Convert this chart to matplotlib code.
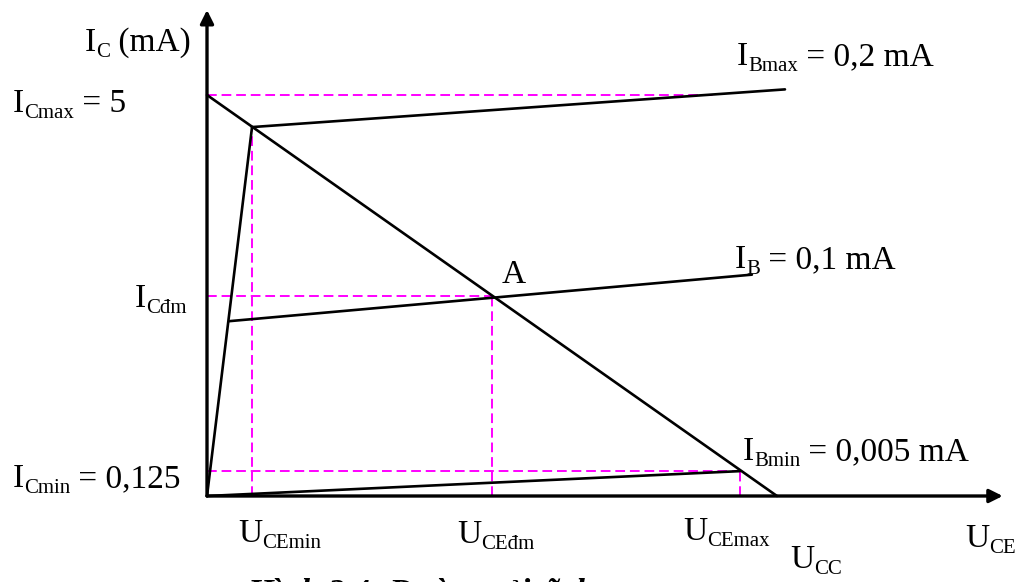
import matplotlib
matplotlib.use("Agg")
import matplotlib.pyplot as plt

plt.rcParams["font.family"] = ["Liberation Serif", "DejaVu Serif"]

# %% data (schematic: U_CE in arbitrary units with U_CC = 10, I_C in mA)
U_CC = 10.0
I_Cmax = 5.0

load_U = [0, U_CC]
load_I = [I_Cmax, 0]

# saturation line from origin to the knee of I_Bmax
sat_U = [0, 0.79]
sat_I = [0, 4.6]

# output characteristics
ibmax_U = [0.79, 10.14]
ibmax_I = [4.6, 5.07]
ib_U = [0.39, 9.56]
ib_I = [2.18, 2.76]
ibmin_U = [0, 9.35]
ibmin_I = [0, 0.31]

# operating points
U_CEmin, U_CEdm, U_CEmax = 0.79, 5.0, 9.35
I_Cdm, I_Cmin = 2.5, 0.31
I_Cmax_guide_end = 8.9

# %% figure
W, H = 1020, 582
fig = plt.figure(figsize=(W / 100, H / 100), dpi=100)
ax = fig.add_axes([0, 0, 1, 1])
ax.set_xlim(-207 / 57, (W - 207) / 57)
ax.set_ylim(-(H - 496) / 80.2, 496 / 80.2)
ax.axis("off")

# axes with arrows
arrow = dict(arrowstyle="-|>", lw=2.4, color="black", mutation_scale=20,
             shrinkA=0, shrinkB=0)
ax.annotate("", xy=(13.96, 0), xytext=(0, 0), arrowprops=arrow)
ax.annotate("", xy=(0, 6.06), xytext=(0, 0), arrowprops=arrow)

# magenta guides
mg = dict(color="#ff00ff", lw=1.4, linestyle=(0, (5, 2.5)), zorder=1)
ax.plot([0, I_Cmax_guide_end], [I_Cmax, I_Cmax], **mg)
ax.plot([U_CEmin, U_CEmin], [0, sat_I[1]], **mg)
ax.plot([0, U_CEdm], [I_Cdm, I_Cdm], **mg)
ax.plot([U_CEdm, U_CEdm], [0, I_Cdm], **mg)
ax.plot([0, U_CEmax], [I_Cmin, I_Cmin], **mg)
ax.plot([U_CEmax, U_CEmax], [0, I_Cmin], **mg)

# black curves
bk = dict(color="black", lw=1.9, zorder=2, solid_capstyle="round")
ax.plot(load_U, load_I, **bk)
ax.plot(sat_U, sat_I, **bk)
ax.plot(ibmax_U, ibmax_I, **bk)
ax.plot(ib_U, ib_I, **bk)
ax.plot(ibmin_U, ibmin_I, **bk)

# %% labels with small subscripts
renderer = fig.canvas.get_renderer()


def label(x, y, parts, size=24, sub_size=15, drop=6):
    # x, y = left edge / baseline in pixels from top left
    for text, sub in parts:
        fs = sub_size if sub else size
        dy = drop if sub else 0
        t = fig.text(x / W, 1 - (y + dy) / H, text, fontsize=fs,
                     ha="left", va="baseline")
        x += t.get_window_extent(renderer).width


label(85, 51, [("I", 0), ("C", 1), (" (mA)", 0)])
label(13, 112, [("I", 0), ("Cmax", 1), (" = 5", 0)])
label(737, 65, [("I", 0), ("Bmax", 1), (" = 0,2 mA", 0)])
label(735, 268, [("I", 0), ("B", 1), (" = 0,1 mA", 0)])
label(135, 307, [("I", 0), ("Cđm", 1)])
label(502, 283, [("A", 0)])
label(743, 460, [("I", 0), ("Bmin", 1), (" = 0,005 mA", 0)])
label(13, 487, [("I", 0), ("Cmin", 1), (" = 0,125", 0)])
label(238, 542, [("U", 0), ("CEmin", 1)])
label(457, 543, [("U", 0), ("CEđm", 1)])
label(683, 540, [("U", 0), ("CEmax", 1)])
label(790, 568, [("U", 0), ("CC", 1)])
label(965, 547, [("U", 0), ("CE", 1)])

# caption (cut off by the bottom edge, as in the source)
fig.text(247 / W, 1 - 602 / H, "Hình 2.4: Đường tải tĩnh", fontsize=24,
         fontweight="bold", fontstyle="italic", ha="left", va="baseline")

fig.savefig("out.png", dpi=100)
